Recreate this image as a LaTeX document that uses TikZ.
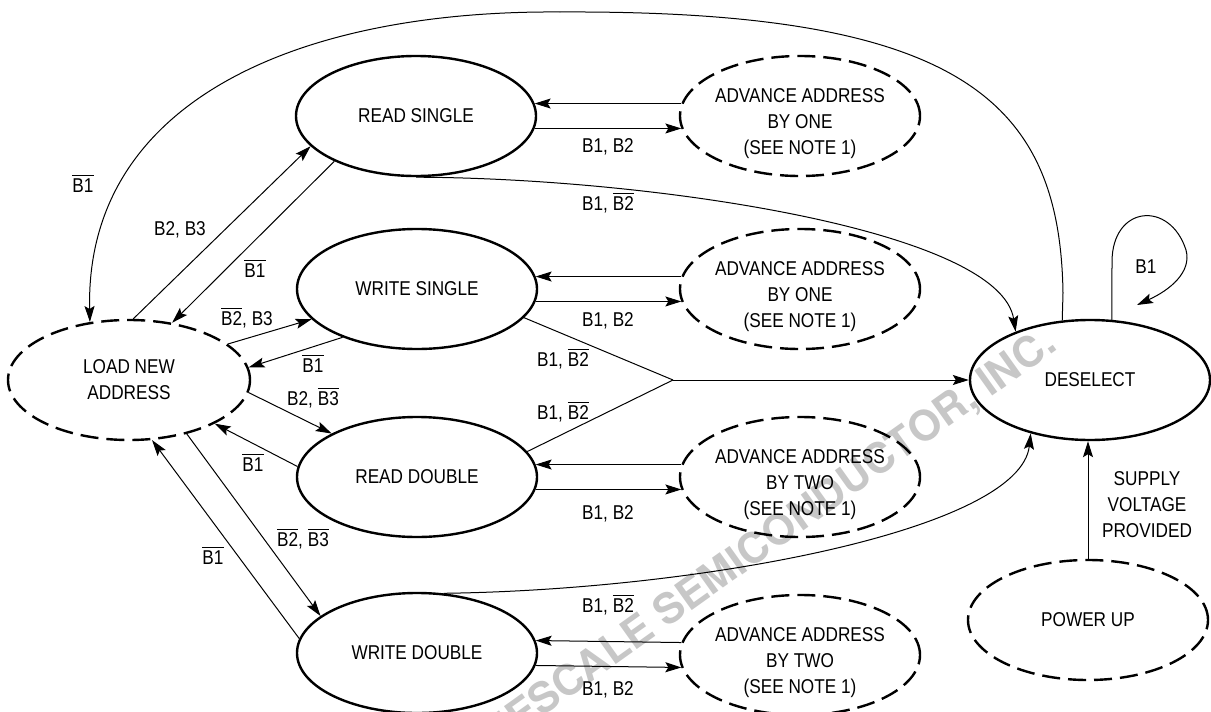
\documentclass[tikz,border=0pt]{standalone}
\usepackage{fontspec}
\setmainfont{Liberation Sans}[FakeStretch=0.86]
\newfontfamily\wmfont{texgyreheros-bold}[Extension=.otf]
\usetikzlibrary{arrows.meta,shapes.geometric}
\newcommand\olb[1]{\vbox{\hrule height 1.1pt\kern 2.4pt\hbox{#1}}}
\begin{document}
\begin{tikzpicture}[x=1pt,y=-1pt,
  every node/.style={font=\fontsize{20}{26}\selectfont},
  st/.style={ellipse, draw, line width=2.4pt, minimum width=240pt, minimum height=120pt, inner sep=0pt, align=center},
  dst/.style={st, dash pattern=on 18pt off 8pt},
  advtxt/.style={align=center, inner sep=0pt},
  conn/.style={line width=1pt, -{Stealth[length=16pt,width=10pt,inset=3pt]}},
  plain/.style={line width=1pt},
  lbl/.style={inner sep=0pt, text height=15pt, text depth=0pt},
]
\useasboundingbox (0,0) rectangle (1211,712);
% watermark
\begin{scope}
\clip (0,0) rectangle (1211,712);
\node[rotate=35.5, text=black!22, inner sep=0pt, font=\wmfont\fontsize{42}{42}\selectfont] (wm) at (748,556) {FREESCALE SEMICONDUCTOR, INC.};
\end{scope}
% states
\node[dst, minimum width=242pt] (lna) at (129,380) {LOAD NEW\\ADDRESS};
\node[st] (rs) at (416,116) {READ SINGLE};
\node[st] (ws) at (417,289) {WRITE SINGLE};
\node[st] (rd) at (417,477) {READ DOUBLE};
\node[st] (wd) at (417,653) {WRITE DOUBLE};
\node[dst] (a1) at (800,116) {};
\node[dst] (a2) at (800,289) {};
\node[dst] (a3) at (800,477) {};
\node[dst] (a4) at (800,655) {};
\node[advtxt] (a1t) at (800,124) {ADVANCE ADDRESS\\BY ONE\\(SEE NOTE 1)};
\node[advtxt] (a2t) at (800,297) {ADVANCE ADDRESS\\BY ONE\\(SEE NOTE 1)};
\node[advtxt] (a3t) at (800,485) {ADVANCE ADDRESS\\BY TWO\\(SEE NOTE 1)};
\node[advtxt] (a4t) at (800,663) {ADVANCE ADDRESS\\BY TWO\\(SEE NOTE 1)};
\node[st] (ds) at (1090,380) {DESELECT};
\node[dst] (pu) at (1088,620) {POWER UP};
% load new address links
\draw[conn] (lna.86) -- (rs.196);
\draw[conn] (rs.209) -- (lna.53);
\draw[conn] (lna.20) -- (ws.196);
\draw[conn] (ws.213) -- (lna.6);
\draw[conn] (lna.-6) -- (rd.153);
\draw[conn] (rd.175) -- (lna.-27);
\draw[conn] (lna.-43) -- (wd.159);
\draw[conn] (wd.173) -- (lna.-69);
% advance loops
\draw[conn] (a1.174) -- (rs.6);
\draw[conn] (rs.-6) -- (a1.186);
\draw[conn] (a2.174) -- (ws.6);
\draw[conn] (ws.-6) -- (a2.186);
\draw[conn] (a3.174) -- (rd.6);
\draw[conn] (rd.-6) -- (a3.186);
\draw[conn] (a4.174) -- (wd.6);
\draw[conn] (wd.-6) -- (a4.186);
% merge to deselect
\coordinate (jn) at (673,380);
\draw[plain] (ws.-15) -- (jn);
\draw[plain] (rd.13) -- (jn);
\draw[conn] (jn) -- (jn -| ds.west);
% read single to deselect
\draw[conn] (rs.south) .. controls (650,178) and (1000,230) .. (ds.147);
% write double to deselect
\draw[conn] (wd.66) .. controls (700,590) and (1020,530) .. (ds.222);
% deselect to load new address (top)
\coordinate (tc1) at (1063,293);
\coordinate (tc2) at (560,12);
\draw[conn] (ds.115) -- (tc1) .. controls (1060,100) and (960,10) .. (tc2) .. controls (300,10) and (85,100) .. (lna.124);
% self loop
\coordinate (lp1) at (1112,262);
\coordinate (lpe) at (1137,305);
\draw[conn] (ds.70) -- (lp1) .. controls (1112,205) and (1170,200) .. (1186,250) .. controls (1192,272) and (1170,290) .. (lpe);
% power up
\draw[conn] (pu.north) -- (pu.north |- ds.south);
% labels
\node[lbl] (l1) at (83,185) {\olb{B1}};
\node[lbl] (l2) at (180,228) {B2, B3};
\node[lbl] (l3) at (255,270) {\olb{B1}};
\node[lbl] (l4) at (247,318) {\olb{B2}, B3};
\node[lbl] (l5) at (313,365) {\olb{B1}};
\node[lbl] (l6) at (313,398) {B2, \olb{B3}};
\node[lbl] (l7) at (253,464) {\olb{B1}};
\node[lbl] (l8) at (303,539) {\olb{B2}, \olb{B3}};
\node[lbl] (l9) at (213,557) {\olb{B1}};
\node[lbl] (m1) at (608,145) {B1, B2};
\node[lbl] (m2) at (608,319) {B1, B2};
\node[lbl] (m3) at (608,512) {B1, B2};
\node[lbl] (m4) at (608,688) {B1, B2};
\node[lbl] (n1) at (608,203) {B1, \olb{B2}};
\node[lbl] (n2) at (563,359) {B1, \olb{B2}};
\node[lbl] (n3) at (563,412) {B1, \olb{B2}};
\node[lbl] (n4) at (608,605) {B1, \olb{B2}};
\node[lbl] (lp) at (1146,266) {B1};
\node[align=center, inner sep=0pt] (sup) at (1147,505) {SUPPLY\\VOLTAGE\\PROVIDED};
\end{tikzpicture}
\end{document}
